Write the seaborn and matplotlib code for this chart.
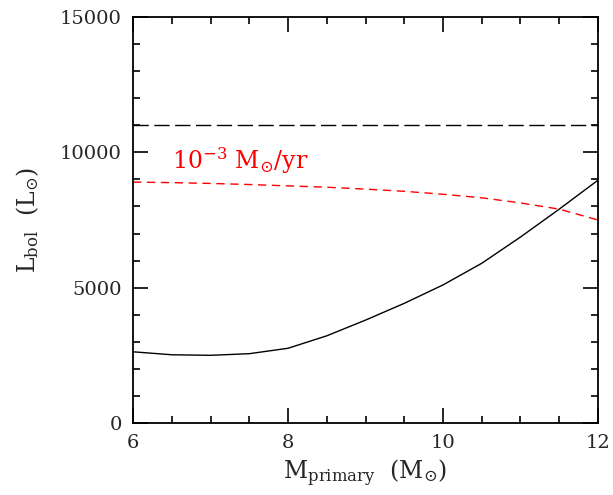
import matplotlib
matplotlib.use("Agg")
import matplotlib.pyplot as plt
from matplotlib.ticker import MultipleLocator
import seaborn as sns
import pandas as pd

# values
m_primary = [6.0, 6.5, 7.0, 7.5, 8.0, 8.5, 9.0, 9.5, 10.0, 10.5, 11.0, 11.5, 12.0]
l_bol = [2630, 2520, 2500, 2560, 2760, 3220, 3800, 4420, 5100, 5900, 6870, 7900, 8970]
l_red = [8900, 8880, 8850, 8810, 8760, 8710, 8640, 8560, 8450, 8320, 8130, 7900, 7500]
l_const = 11000

sns.set_style("ticks")
plt.rcParams['font.family'] = ['DejaVu Serif', 'DejaVu Sans']
plt.rcParams['mathtext.fontset'] = 'dejavuserif'

df = pd.DataFrame({'m': m_primary, 'lbol': l_bol, 'lred': l_red})

fig = plt.figure(figsize=(6.13, 4.95), dpi=100)
ax = fig.add_axes([0.217, 0.1455, 0.7585, 0.8202])

sns.lineplot(data=df, x='m', y='lbol', color='black', lw=1.0, ax=ax)
sns.lineplot(data=df, x='m', y='lred', color='red', lw=1.0, ax=ax)
ax.lines[-1].set_dashes((6, 4))
ax.axhline(l_const, color='black', lw=1.0, dashes=(11, 4))

ax.text(6.5, 9700, r'$10^{-3}\ \mathrm{M}_{\odot}/\mathrm{yr}$', color='red',
        fontsize=17, va='center', ha='left')

ax.set_xlim(6, 12)
ax.set_ylim(0, 15000)
ax.xaxis.set_major_locator(MultipleLocator(2))
ax.xaxis.set_minor_locator(MultipleLocator(0.5))
ax.yaxis.set_major_locator(MultipleLocator(5000))
ax.yaxis.set_minor_locator(MultipleLocator(1000))
ax.tick_params(which='both', direction='in', top=True, right=True,
               labelsize=14, width=1.2, color='black')
ax.tick_params(which='major', length=11, pad=8)
ax.tick_params(which='minor', length=5)
for s in ax.spines.values():
    s.set_linewidth(1.3)
    s.set_color('black')

ax.set_xlabel(r'$\mathrm{M_{primary}}\ \ (\mathrm{M}_{\odot})$', fontsize=17, labelpad=4)
ax.set_ylabel(r'$\mathrm{L_{bol}}\ \ (\mathrm{L}_{\odot})$', fontsize=17, labelpad=14)

fig.savefig('out.png', dpi=100)
